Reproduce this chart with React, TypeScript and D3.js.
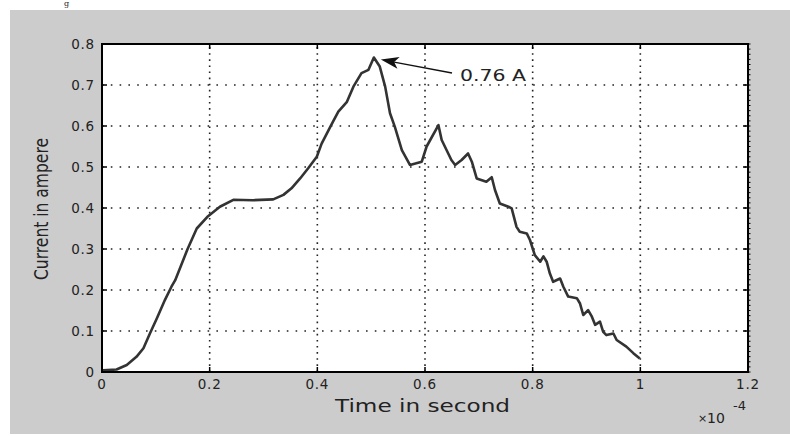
import React from "react";
import * as d3 from "d3";

// time in units of 1e-4 s
const timeValues = [
  0, 0.002, 0.027, 0.046, 0.064, 0.077, 0.089, 0.102, 0.117, 0.129, 0.136, 0.159, 0.176, 0.197, 0.219,
  0.244, 0.28, 0.318, 0.337, 0.352, 0.368, 0.383, 0.399, 0.408, 0.424, 0.439, 0.455, 0.467, 0.482, 0.495,
  0.505, 0.516, 0.526, 0.535, 0.544, 0.557, 0.572, 0.594, 0.603, 0.625, 0.631, 0.649, 0.656, 0.668, 0.68,
  0.687, 0.696, 0.714, 0.724, 0.73, 0.739, 0.755, 0.761, 0.77, 0.776, 0.789, 0.795, 0.804, 0.814, 0.82,
  0.826, 0.832, 0.838, 0.851, 0.857, 0.866, 0.882, 0.888, 0.894, 0.903, 0.91, 0.916, 0.925, 0.931, 0.937,
  0.95, 0.956, 0.974, 0.987, 0.999,
];
const currentValues = [
  0, 0.004, 0.006, 0.017, 0.037, 0.058, 0.094, 0.131, 0.176, 0.208, 0.224, 0.3, 0.35, 0.38, 0.403,
  0.42, 0.419, 0.421, 0.432, 0.448, 0.472, 0.497, 0.525, 0.557, 0.598, 0.635, 0.659, 0.696, 0.729, 0.737,
  0.767, 0.745, 0.696, 0.631, 0.598, 0.541, 0.505, 0.513, 0.55, 0.602, 0.566, 0.517, 0.505, 0.517, 0.533,
  0.513, 0.472, 0.464, 0.475, 0.444, 0.411, 0.403, 0.399, 0.354, 0.342, 0.338, 0.322, 0.285, 0.269, 0.282,
  0.269, 0.24, 0.22, 0.228, 0.208, 0.184, 0.18, 0.167, 0.139, 0.151, 0.135, 0.115, 0.123, 0.098, 0.09,
  0.094, 0.078, 0.062, 0.046, 0.033,
];
const xTicks = [0, 0.2, 0.4, 0.6, 0.8, 1, 1.2];
const xTickLabels = ["0", "0.2", "0.4", "0.6", "0.8", "1", "1.2"];
const yTicks = [0, 0.1, 0.2, 0.3, 0.4, 0.5, 0.6, 0.7, 0.8];
const yTickLabels = ["0", "0.1", "0.2", "0.3", "0.4", "0.5", "0.6", "0.7", "0.8"];
const peakTime = 0.505;
const peakCurrent = 0.767;
const peakLabel = "0.76 A";

const W = 790;
const H = 436;
const L = 102, R = 748, T = 44, B = 372;
const FONT = "'DejaVu Sans', Arial, sans-serif";

export default function App() {
  const x = d3.scaleLinear().domain([0, 1.2]).range([L, R]);
  const y = d3.scaleLinear().domain([0, 0.8]).range([B, T]);
  const pts: [number, number][] = timeValues.map((t, i) => [t, currentValues[i]]);
  const line = d3
    .line<[number, number]>()
    .x((d) => x(d[0]))
    .y((d) => y(d[1]))
    .curve(d3.curveLinear);

  const minorTicks = d3.range(0, 0.8 + 1e-9, 0.0125);

  // arrow
  const tipX = x(peakTime) + 7;
  const tipY = y(peakCurrent) + 2;
  const tailX = 452;
  const tailY = 73;
  const ang = Math.atan2(tailY - tipY, tailX - tipX);
  const hl = 18, hw = 6;
  const bx = tipX + hl * Math.cos(ang), by = tipY + hl * Math.sin(ang);
  const nx = -Math.sin(ang), ny = Math.cos(ang);
  const mx = tipX + hl * 0.75 * Math.cos(ang), my = tipY + hl * 0.75 * Math.sin(ang);
  const head = `M${tipX},${tipY} L${bx + nx * hw},${by + ny * hw} L${mx},${my} L${bx - nx * hw},${by - ny * hw} Z`;

  return (
    <svg
      width={W}
      height={H}
      style={{ position: "absolute", left: 0, top: 0, background: "#fff" }}
      fontFamily={FONT}
    >
      <text x={64} y={6} fontFamily="'DejaVu Serif', serif" fontSize={8} fill="#222">g</text>
      <rect x={10} y={10} width={W - 10} height={H - 12} fill="#cccccc" />
      <rect x={L} y={T} width={R - L} height={B - T} fill="#ffffff" />

      {/* grid */}
      {xTicks.slice(1, -1).map((t) => (
        <line key={"gx" + t} x1={x(t)} x2={x(t)} y1={B} y2={T} stroke="#222" strokeWidth={1.6} strokeDasharray="1.6,4.5" />
      ))}
      {yTicks.slice(1, -1).map((v) => (
        <line key={"gy" + v} x1={L} x2={R} y1={y(v)} y2={y(v)} stroke="#222" strokeWidth={1.6} strokeDasharray="1.6,7.2" />
      ))}

      {/* data */}
      <path d={line(pts) || ""} fill="none" stroke="#333" strokeWidth={2.6} strokeLinejoin="round" />

      {/* axes box */}
      <rect x={L} y={T} width={R - L} height={B - T} fill="none" stroke="#000" strokeWidth={2} />
      {xTicks.map((t) => (
        <g key={"tx" + t}>
          <line x1={x(t)} x2={x(t)} y1={B} y2={B - 5} stroke="#000" strokeWidth={1.5} />
          <line x1={x(t)} x2={x(t)} y1={T} y2={T + 5} stroke="#000" strokeWidth={1.5} />
        </g>
      ))}
      {yTicks.map((v) => (
        <g key={"ty" + v}>
          <line x1={L} x2={L + 5} y1={y(v)} y2={y(v)} stroke="#000" strokeWidth={1.5} />
          <line x1={R} x2={R - 5} y1={y(v)} y2={y(v)} stroke="#000" strokeWidth={1.5} />
        </g>
      ))}
      {minorTicks.map((v) => (
        <line key={"mt" + v} x1={R} x2={R + 2.5} y1={y(v)} y2={y(v)} stroke="#000" strokeWidth={1} />
      ))}

      {/* tick labels */}
      {xTicks.map((t, i) => (
        <text key={"lx" + t} x={x(t)} y={389} textAnchor="middle" fontSize={13.5} letterSpacing={0.8} fill="#222">
          {xTickLabels[i]}
        </text>
      ))}
      {yTicks.map((v, i) => (
        <text key={"ly" + v} x={95} y={y(v) + 5} textAnchor="end" fontSize={13.5} letterSpacing={0.8} fill="#222">
          {yTickLabels[i]}
        </text>
      ))}

      {/* axis labels */}
      <text x={335} y={412} fontSize={18} textLength={175} lengthAdjust="spacingAndGlyphs" fill="#222">
        Time in second
      </text>
      <text
        transform={`translate(48,${280}) rotate(-90)`}
        x={0}
        y={0}
        fontSize={19}
        textLength={142}
        lengthAdjust="spacingAndGlyphs"
        fill="#222"
      >
        Current in ampere
      </text>

      {/* exponent */}
      <text x={698} y={422} fontSize={11} fill="#222">×</text>
      <text x={707} y={423} fontSize={14} fill="#222">10</text>
      <text x={733} y={410} fontSize={13} fill="#222">-4</text>

      {/* annotation */}
      <line x1={tailX} y1={tailY} x2={mx} y2={my} stroke="#111" strokeWidth={1.3} />
      <path d={head} fill="#111" />
      <text x={460} y={81} fontSize={15.5} textLength={66} lengthAdjust="spacingAndGlyphs" fill="#222">
        {peakLabel}
      </text>
    </svg>
  );
}
